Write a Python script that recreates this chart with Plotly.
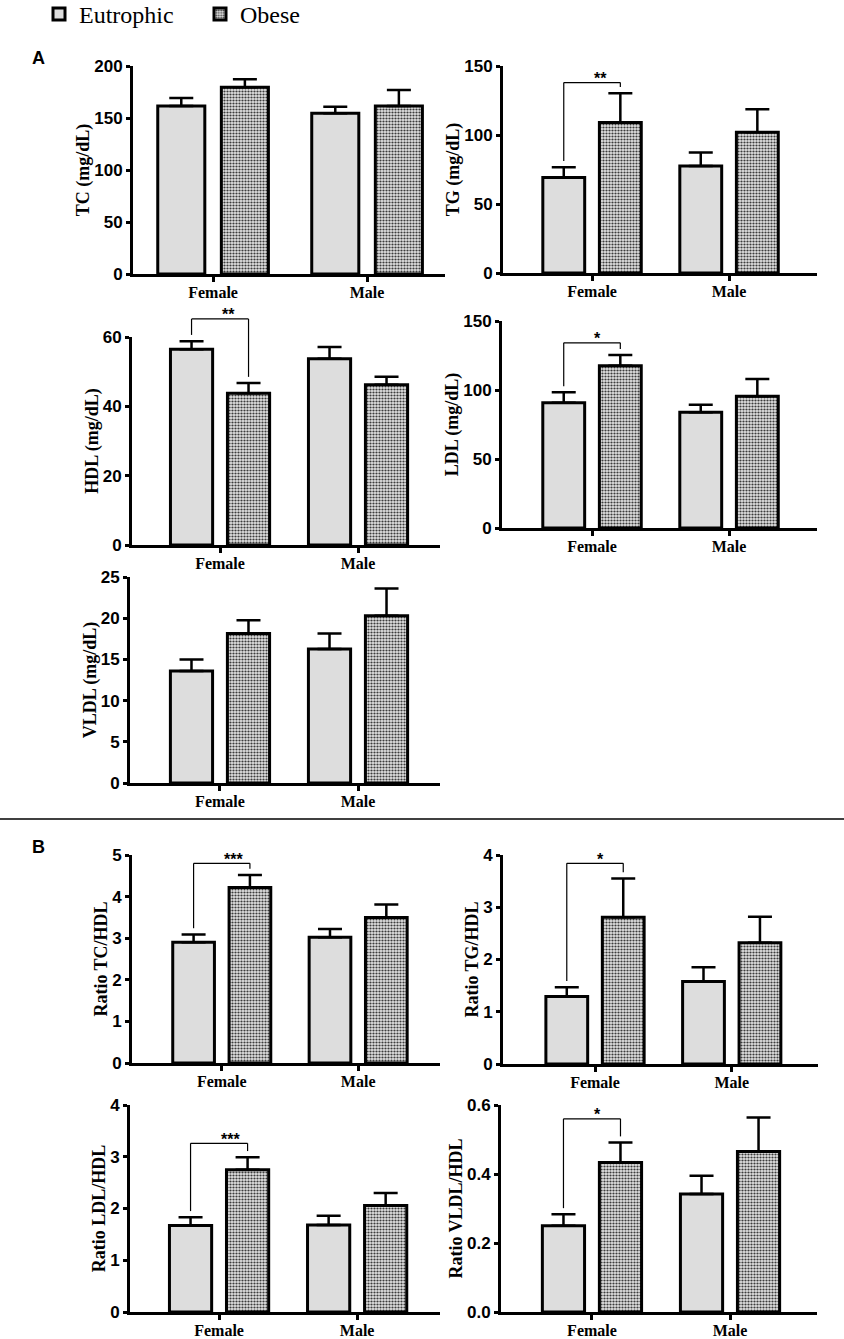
import plotly.graph_objects as go

W, H = 844, 1339

groups = ["Female", "Male"]
series = ["Eutrophic", "Obese"]

# mean values and SEM (upper error)
tc_eut = [161.5, 154.5]
tc_eut_sem = [7.7, 6.4]
tc_obe = [179.5, 161.5]
tc_obe_sem = [7.7, 15.4]

tg_eut = [69.2, 77.6]
tg_eut_sem = [7.5, 9.7]
tg_obe = [109.0, 102.0]
tg_obe_sem = [21.2, 16.7]

hdl_eut = [56.5, 53.7]
hdl_eut_sem = [2.3, 3.4]
hdl_obe = [43.8, 46.2]
hdl_obe_sem = [2.9, 2.3]

ldl_eut = [90.8, 83.9]
ldl_eut_sem = [7.5, 5.5]
ldl_obe = [117.6, 95.4]
ldl_obe_sem = [7.7, 12.6]

vldl_eut = [13.6, 16.25]
vldl_eut_sem = [1.4, 1.9]
vldl_obe = [18.15, 20.3]
vldl_obe_sem = [1.6, 3.3]

r_tc_eut = [2.90, 3.02]
r_tc_eut_sem = [0.19, 0.20]
r_tc_obe = [4.22, 3.50]
r_tc_obe_sem = [0.30, 0.31]

r_tg_eut = [1.29, 1.58]
r_tg_eut_sem = [0.18, 0.27]
r_tg_obe = [2.81, 2.32]
r_tg_obe_sem = [0.74, 0.50]

r_ldl_eut = [1.67, 1.68]
r_ldl_eut_sem = [0.16, 0.18]
r_ldl_obe = [2.75, 2.06]
r_ldl_obe_sem = [0.24, 0.24]

r_vldl_eut = [0.250, 0.342]
r_vldl_eut_sem = [0.033, 0.053]
r_vldl_obe = [0.433, 0.465]
r_vldl_obe_sem = [0.058, 0.099]

# significance (Female: Eutrophic vs Obese): label, bracket level
sig_tg = ("**", 138)
sig_hdl = ("**", 65.2)
sig_ldl = ("*", 134.2)
sig_r_tc = ("***", 4.80)
sig_r_tg = ("*", 3.84)
sig_r_ldl = ("***", 3.26)
sig_r_vldl = ("*", 0.560)

# panel layout: pixel box (x0, x1, ytop, ybottom) and category range
panels = [
    dict(title="TC (mg/dL)", eut=tc_eut, eut_sem=tc_eut_sem, obe=tc_obe, obe_sem=tc_obe_sem,
         ymax=200, dtick=50, fmt="", box=(133, 445, 66, 274), xr=(-0.52, 1.506), sig=None),
    dict(title="TG (mg/dL)", eut=tg_eut, eut_sem=tg_eut_sem, obe=tg_obe, obe_sem=tg_obe_sem,
         ymax=150, dtick=50, fmt="", box=(503, 817, 66, 273), xr=(-0.65, 1.642), sig=sig_tg),
    dict(title="HDL (mg/dL)", eut=hdl_eut, eut_sem=hdl_eut_sem, obe=hdl_obe, obe_sem=hdl_obe_sem,
         ymax=60, dtick=20, fmt="", box=(132, 440, 337, 545), xr=(-0.638, 1.594), sig=sig_hdl),
    dict(title="LDL (mg/dL)", eut=ldl_eut, eut_sem=ldl_eut_sem, obe=ldl_obe, obe_sem=ldl_obe_sem,
         ymax=150, dtick=50, fmt="", box=(502, 817, 321, 528), xr=(-0.657, 1.642), sig=sig_ldl),
    dict(title="VLDL (mg/dL)", eut=vldl_eut, eut_sem=vldl_eut_sem, obe=vldl_obe, obe_sem=vldl_obe_sem,
         ymax=25, dtick=5, fmt="", box=(130, 440, 577, 783), xr=(-0.652, 1.594), sig=None),
    dict(title="Ratio TC/HDL", eut=r_tc_eut, eut_sem=r_tc_eut_sem, obe=r_tc_obe, obe_sem=r_tc_obe_sem,
         ymax=5, dtick=1, fmt="", box=(132, 440, 855, 1063), xr=(-0.658, 1.60), sig=sig_r_tc),
    dict(title="Ratio TG/HDL", eut=r_tg_eut, eut_sem=r_tg_eut_sem, obe=r_tg_obe, obe_sem=r_tg_obe_sem,
         ymax=4, dtick=1, fmt="", box=(503, 818, 855, 1064), xr=(-0.673, 1.631), sig=sig_r_tg),
    dict(title="Ratio LDL/HDL", eut=r_ldl_eut, eut_sem=r_ldl_eut_sem, obe=r_ldl_obe, obe_sem=r_ldl_obe_sem,
         ymax=4, dtick=1, fmt="", box=(130, 440, 1105, 1312), xr=(-0.645, 1.60), sig=sig_r_ldl),
    dict(title="Ratio VLDL/HDL", eut=r_vldl_eut, eut_sem=r_vldl_eut_sem, obe=r_vldl_obe, obe_sem=r_vldl_obe_sem,
         ymax=0.6, dtick=0.2, fmt=".1f", box=(501, 817, 1105, 1312), xr=(-0.659, 1.63), sig=sig_r_vldl),
]

BARGAP = 0.174
BARGROUPGAP = 0.26
half_slot = (1 - BARGAP) / 4  # centre offset of each bar in a group

sans_b = dict(family="Liberation Sans", size=17, color="black", weight="bold")
serif_b = dict(family="Liberation Serif", size=16, color="black", weight="bold")

eut_marker = dict(color="#dddddd", line=dict(color="black", width=3))
obe_marker = dict(color="#bbbbbb", line=dict(color="black", width=3),
                  pattern=dict(shape=".", fgcolor="#3c3c3c", bgcolor="#e2e2e2",
                               size=3, solidity=0.42, fillmode="replace"))

fig = go.Figure()
shapes = []
annotations = []

for i, p in enumerate(panels, start=1):
    xa = "x" if i == 1 else f"x{i}"
    ya = "y" if i == 1 else f"y{i}"
    for name, mean, sem, marker in [("Eutrophic", p["eut"], p["eut_sem"], eut_marker),
                                    ("Obese", p["obe"], p["obe_sem"], obe_marker)]:
        fig.add_trace(go.Bar(
            x=groups, y=mean, name=name, marker=marker,
            error_y=dict(type="data", array=sem, arrayminus=[0] * len(sem), symmetric=False,
                         color="black", thickness=2.5, width=12),
            xaxis=xa, yaxis=ya, legendgroup=name, showlegend=(i == 1),
        ))

    x0, x1, yt, yb = p["box"]
    xkey = "xaxis" if i == 1 else f"xaxis{i}"
    ykey = "yaxis" if i == 1 else f"yaxis{i}"
    fig.update_layout(**{
        xkey: dict(domain=[x0 / W, x1 / W], anchor=ya, range=list(p["xr"]),
                   showline=True, linecolor="black", linewidth=3,
                   ticks="outside", ticklen=5, tickwidth=3, tickcolor="black",
                   ticklabelstandoff=-3,
                   showgrid=False, zeroline=False, tickfont=serif_b, fixedrange=True),
        ykey: dict(domain=[1 - yb / H, 1 - yt / H], anchor=xa, range=[0, p["ymax"]],
                   dtick=p["dtick"], tick0=0, tickformat=p["fmt"],
                   showline=True, linecolor="black", linewidth=3,
                   ticks="outside", ticklen=4, tickwidth=2.5, tickcolor="black",
                   showgrid=False, zeroline=False, tickfont=sans_b,
                   title=dict(text=p["title"], standoff=0,
                              font=dict(family="Liberation Serif", size=18, color="black", weight="bold"))),
    })

    if p["sig"]:
        label, level = p["sig"]
        r0, r1 = p["xr"]
        ymax = p["ymax"]

        def fx(v):
            return (v - r0) / (r1 - r0)

        xl, xr_ = fx(0 - half_slot), fx(0 + half_slot)
        gap = 0.03 * ymax
        left_bot = (p["eut"][0] + p["eut_sem"][0] + gap) / ymax
        right_bot = (p["obe"][0] + p["obe_sem"][0] + gap) / ymax
        top = level / ymax
        ref = dict(xref=f"{xa} domain", yref=f"{ya} domain", line=dict(color="black", width=1.2))
        shapes += [
            dict(type="line", x0=xl, x1=xl, y0=left_bot, y1=top, **ref),
            dict(type="line", x0=xl, x1=xr_, y0=top, y1=top, **ref),
            dict(type="line", x0=xr_, x1=xr_, y0=top, y1=right_bot, **ref),
        ]
        annotations.append(dict(text=label, x=(xl + xr_) / 2, y=top, xref=f"{xa} domain",
                                yref=f"{ya} domain", showarrow=False, yanchor="middle", yshift=4,
                                font=dict(family="Liberation Sans", size=16, color="black", weight="bold")))

# separator between A and B
shapes.append(dict(type="line", xref="paper", yref="paper", x0=0, x1=1,
                   y0=1 - 819 / H, y1=1 - 819 / H, line=dict(color="black", width=1.5)))

for letter, ly in [("A", 58), ("B", 847)]:
    annotations.append(dict(text=letter, x=38 / W, y=1 - ly / H, xref="paper", yref="paper",
                            showarrow=False, xanchor="center", yanchor="middle",
                            font=dict(family="Liberation Sans", size=18, color="black", weight="bold")))

fig.update_layout(
    width=W, height=H,
    margin=dict(l=0, r=0, t=0, b=0, autoexpand=False),
    paper_bgcolor="white", plot_bgcolor="white",
    barmode="group", bargap=BARGAP, bargroupgap=BARGROUPGAP,
    shapes=shapes, annotations=annotations,
    legend=dict(orientation="h", x=39 / W, y=1 + 8 / H, xanchor="left", yanchor="top",
                font=dict(family="Liberation Serif", size=24, color="black"),
                itemwidth=30, entrywidth=116, entrywidthmode="pixels",
                tracegroupgap=0, bgcolor="rgba(0,0,0,0)"),
)

# drop the browser's default 8px body margin so the figure sits at the page corner
fig.write_html("out.html", config={"displayModeBar": False},
               post_script="document.body.style.margin = '0';")
